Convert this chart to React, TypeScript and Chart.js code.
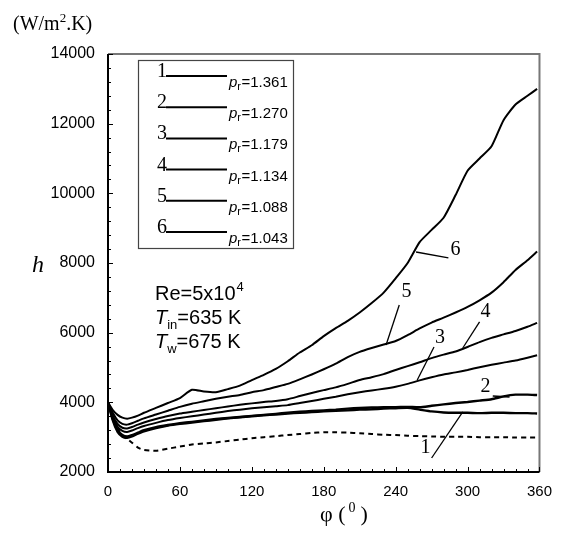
import React, { useEffect, useRef } from 'react';
import { Chart, registerables } from 'chart.js';

Chart.register(...registerables);

// angle φ (degrees)
const angles = [0, 4, 8, 12, 16, 20, 25, 30, 40, 50, 60, 70, 80, 90, 100, 110, 120, 130, 140, 150, 160, 170, 180, 190, 200, 210, 220, 230, 240, 250, 260, 270, 280, 290, 300, 310, 320, 330, 340, 350, 358];

// h (W/m2.K) for each curve
const h1 = [4000, 3480, 3150, 3010, 2980, 3020, 3100, 3170, 3260, 3330, 3380, 3420, 3460, 3500, 3540, 3570, 3600, 3630, 3650, 3680, 3700, 3720, 3740, 3760, 3770, 3790, 3800, 3820, 3830, 3840, 3790, 3740, 3710, 3700, 3700, 3690, 3700, 3700, 3690, 3690, 3680];
const h2 = [4000, 3520, 3200, 3060, 3020, 3060, 3130, 3200, 3290, 3350, 3400, 3440, 3480, 3520, 3550, 3580, 3610, 3640, 3670, 3700, 3730, 3750, 3770, 3790, 3820, 3840, 3850, 3860, 3860, 3870, 3860, 3900, 3940, 3980, 4010, 4050, 4090, 4170, 4220, 4220, 4210];
const h3 = [4000, 3580, 3300, 3180, 3150, 3190, 3260, 3320, 3410, 3490, 3550, 3600, 3650, 3700, 3750, 3790, 3830, 3860, 3890, 3920, 3980, 4040, 4100, 4160, 4230, 4290, 4340, 4390, 4450, 4530, 4630, 4720, 4800, 4860, 4930, 5010, 5080, 5140, 5200, 5280, 5350];
const h4 = [4000, 3620, 3380, 3270, 3250, 3290, 3360, 3420, 3520, 3610, 3680, 3730, 3780, 3830, 3880, 3930, 3970, 4010, 4040, 4090, 4180, 4270, 4350, 4430, 4530, 4640, 4720, 4810, 4930, 5040, 5150, 5270, 5370, 5460, 5590, 5730, 5850, 5950, 6050, 6170, 6280];
const h5 = [4000, 3700, 3480, 3380, 3360, 3400, 3470, 3540, 3650, 3760, 3870, 3960, 4030, 4100, 4160, 4210, 4290, 4350, 4440, 4530, 4660, 4800, 4950, 5110, 5300, 5450, 5560, 5660, 5760, 5930, 6120, 6290, 6430, 6580, 6740, 6930, 7150, 7450, 7800, 8080, 8330];
const h6 = [4000, 3780, 3640, 3560, 3530, 3560, 3620, 3700, 3840, 3980, 4120, 4360, 4310, 4290, 4380, 4480, 4640, 4790, 4960, 5180, 5430, 5640, 5900, 6130, 6340, 6580, 6850, 7150, 7560, 8000, 8600, 8950, 9300, 9950, 10650, 11000, 11350, 12100, 12550, 12800, 13000];
const hDashed = [4000, 3600, 3250, 3050, 2950, 2840, 2700, 2630, 2610, 2670, 2730, 2790, 2820, 2850, 2890, 2930, 2970, 3000, 3030, 3060, 3090, 3120, 3140, 3140, 3130, 3110, 3090, 3070, 3060, 3040, 3030, 3020, 3010, 3010, 3010, 3000, 3000, 3000, 2990, 2990, 2990];

// legend
const curveIds = ['1', '2', '3', '4', '5', '6'];
const prValues = ['1.361', '1.270', '1.179', '1.134', '1.088', '1.043'];

// axis ticks
const xTicks = [0, 60, 120, 180, 240, 300, 360];
const yTicks = [2000, 4000, 6000, 8000, 10000, 12000, 14000];

// curve labels on the plot (data units)
const tagText = ['1', '2', '3', '4', '5', '6'];
const tagX = [265, 315, 277, 315, 249, 290];
const tagY = [2689, 4440, 5847, 6594, 7168, 8374];
const leadX0 = [270, 321, 272, 310, 243, 257];
const leadY0 = [2402, 4182, 5589, 6307, 6795, 8316];
const leadX1 = [296, 335, 258, 296, 232, 284];
const leadY1 = [3723, 4153, 4641, 5560, 5646, 8144];

const SANS = '"Liberation Sans", Arial, sans-serif';
const SERIF = '"Liberation Serif", "Times New Roman", serif';

export default function App() {
  const ref = useRef<HTMLCanvasElement>(null);

  useEffect(() => {
    const canvas = ref.current;
    if (!canvas) return;
    const mk = (ys: number[]) => angles.map((x, i) => ({ x, y: ys[i] }));
    const solid = [h1, h2, h3, h4, h5, h6];
    const datasets: any[] = solid.map((ys, i) => ({
      label: 'curve ' + curveIds[i],
      data: mk(ys),
      borderColor: '#000',
      borderWidth: i < 2 ? 2.4 : 2,
      pointRadius: 0,
      tension: 0.2,
      fill: false,
    }));
    datasets.push({
      label: 'dashed',
      data: mk(hDashed),
      borderColor: '#000',
      borderWidth: 2,
      borderDash: [5, 4],
      pointRadius: 0,
      tension: 0.2,
      fill: false,
    });

    const deco = {
      id: 'deco',
      afterDraw(chart: any) {
        const ctx = chart.ctx as CanvasRenderingContext2D;
        const xs = chart.scales.x;
        const ys = chart.scales.y;
        const a = chart.chartArea;
        ctx.save();
        // frame
        ctx.strokeStyle = '#777';
        ctx.lineWidth = 2;
        ctx.beginPath();
        ctx.moveTo(a.left, a.top);
        ctx.lineTo(a.right, a.top);
        ctx.lineTo(a.right, a.bottom);
        ctx.stroke();
        ctx.strokeStyle = '#000';
        ctx.beginPath();
        ctx.moveTo(a.left, a.top);
        ctx.lineTo(a.left, a.bottom);
        ctx.lineTo(a.right, a.bottom);
        ctx.stroke();
        // inward ticks
        ctx.lineWidth = 1;
        ctx.beginPath();
        for (let v = 0; v <= 360; v += 10) {
          const px = Math.round(xs.getPixelForValue(v)) + 0.5;
          const len = v % 60 === 0 ? 5 : 3;
          ctx.moveTo(px, a.bottom);
          ctx.lineTo(px, a.bottom - len);
        }
        for (let v = 2000; v <= 14000; v += 400) {
          const py = Math.round(ys.getPixelForValue(v)) + 0.5;
          const len = v % 2000 === 0 ? 5 : 3;
          ctx.moveTo(a.left, py);
          ctx.lineTo(a.left + len, py);
        }
        ctx.stroke();

        // curve tags
        ctx.fillStyle = '#000';
        ctx.strokeStyle = '#000';
        ctx.lineWidth = 1.3;
        ctx.font = '20px ' + SERIF;
        ctx.textAlign = 'center';
        ctx.textBaseline = 'middle';
        for (let i = 0; i < tagText.length; i++) {
          ctx.fillText(tagText[i], xs.getPixelForValue(tagX[i]), ys.getPixelForValue(tagY[i]));
          ctx.beginPath();
          ctx.moveTo(xs.getPixelForValue(leadX0[i]), ys.getPixelForValue(leadY0[i]));
          ctx.lineTo(xs.getPixelForValue(leadX1[i]), ys.getPixelForValue(leadY1[i]));
          ctx.stroke();
        }

        // legend box
        const bx0 = 138, by0 = 60, bx1 = 293, by1 = 248;
        ctx.fillStyle = '#fff';
        ctx.fillRect(bx0, by0, bx1 - bx0, by1 - by0);
        ctx.strokeStyle = '#444';
        ctx.lineWidth = 1.2;
        ctx.strokeRect(bx0 + 0.5, by0 + 0.5, bx1 - bx0, by1 - by0);
        ctx.fillStyle = '#000';
        ctx.strokeStyle = '#000';
        ctx.textBaseline = 'alphabetic';
        for (let i = 0; i < curveIds.length; i++) {
          const ry = 60 + i * 31.2;
          ctx.font = '20px ' + SERIF;
          ctx.textAlign = 'right';
          ctx.fillText(curveIds[i], 167, ry + 17);
          ctx.lineWidth = 2;
          ctx.beginPath();
          ctx.moveTo(166, ry + 16);
          ctx.lineTo(227, ry + 16);
          ctx.stroke();
          ctx.textAlign = 'left';
          let tx = 229;
          ctx.font = 'italic 15px ' + SANS;
          ctx.fillText('p', tx, ry + 27);
          tx += ctx.measureText('p').width;
          ctx.font = '11px ' + SANS;
          ctx.fillText('r', tx, ry + 30);
          tx += ctx.measureText('r').width + 0.5;
          ctx.font = '15px ' + SANS;
          ctx.fillText('=' + prValues[i], tx, ry + 27);
        }

        // parameters text
        ctx.textAlign = 'left';
        let px = 155;
        ctx.font = '20px ' + SANS;
        ctx.fillText('Re=5x10', px, 300);
        px += ctx.measureText('Re=5x10').width + 1;
        ctx.font = '13px ' + SANS;
        ctx.fillText('4', px, 291);

        px = 155;
        ctx.font = 'italic 20px ' + SANS;
        ctx.fillText('T', px, 324);
        px += ctx.measureText('T').width;
        ctx.font = '13px ' + SANS;
        ctx.fillText('in', px, 329);
        px += ctx.measureText('in').width;
        ctx.font = '20px ' + SANS;
        ctx.fillText('=635 K', px, 324);

        px = 155;
        ctx.font = 'italic 20px ' + SANS;
        ctx.fillText('T', px, 348);
        px += ctx.measureText('T').width;
        ctx.font = '13px ' + SANS;
        ctx.fillText('w', px, 353);
        px += ctx.measureText('w').width;
        ctx.font = '20px ' + SANS;
        ctx.fillText('=675 K', px, 348);

        // y unit
        px = 13;
        ctx.font = '20px ' + SERIF;
        ctx.fillText('(W/m', px, 30);
        px += ctx.measureText('(W/m').width;
        ctx.font = '13px ' + SERIF;
        ctx.fillText('2', px, 22);
        px += ctx.measureText('2').width;
        ctx.font = '20px ' + SERIF;
        ctx.fillText('.K)', px, 30);

        // y title
        ctx.font = 'italic 24px ' + SERIF;
        ctx.textAlign = 'center';
        ctx.fillText('h', 38, 272);

        // x title
        ctx.textAlign = 'left';
        px = 320;
        ctx.font = '22px ' + SERIF;
        ctx.fillText('φ (', px, 521);
        px += ctx.measureText('φ (').width + 3;
        ctx.font = '14px ' + SERIF;
        ctx.fillText('0', px, 512);
        px += ctx.measureText('0').width + 5;
        ctx.font = '22px ' + SERIF;
        ctx.fillText(')', px, 521);
        ctx.restore();
      },
    };

    const chart = new Chart(canvas, {
      type: 'line',
      data: { datasets },
      options: {
        animation: false,
        responsive: false,
        maintainAspectRatio: false,
        events: [],
        layout: { padding: { left: 0, right: 15, top: 54, bottom: 0 } },
        plugins: { legend: { display: false }, tooltip: { enabled: false } },
        scales: {
          x: {
            type: 'linear',
            min: 0,
            max: 360,
            grid: { display: false, drawTicks: false },
            border: { display: false },
            afterBuildTicks: (s: any) => { s.ticks = xTicks.map((v) => ({ value: v })); },
            afterFit: (s: any) => { s.height = 70; },
            ticks: {
              padding: 11,
              color: '#000',
              font: { family: SANS, size: 15 },
              maxRotation: 0,
              autoSkip: false,
              callback: (v: any) => String(v),
            },
          },
          y: {
            type: 'linear',
            min: 2000,
            max: 14000,
            grid: { display: false, drawTicks: false },
            border: { display: false },
            afterBuildTicks: (s: any) => { s.ticks = yTicks.map((v) => ({ value: v })); },
            afterFit: (s: any) => { s.width = 108; },
            ticks: {
              padding: 13,
              color: '#000',
              font: { family: SANS, size: 16 },
              autoSkip: false,
              callback: (v: any) => String(v),
            },
          },
        },
      },
      plugins: [deco],
    });
    return () => chart.destroy();
  }, []);

  return (
    <div style={{ position: 'fixed', left: 0, top: 0, width: 563, height: 542, background: '#fff' }}>
      <canvas ref={ref} width={563} height={542} style={{ display: 'block' }} />
    </div>
  );
}
